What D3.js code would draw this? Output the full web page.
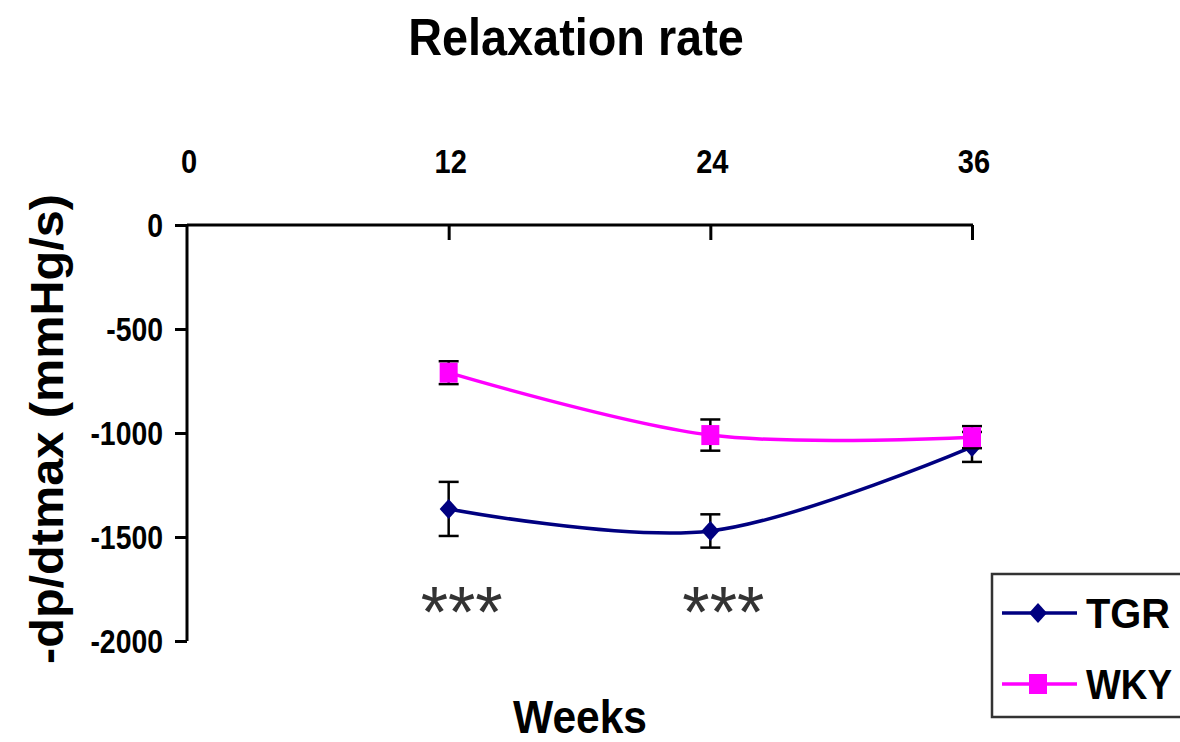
<!DOCTYPE html>
<html><head><meta charset="utf-8">
<script src="https://cdn.jsdelivr.net/npm/d3@7"></script>
<style>body{margin:0;background:#fff}svg{display:block}text{font-family:"Liberation Sans",Arial,sans-serif}</style>
</head><body>
<script>
const weeks = [12, 24, 36];
const tgr = [-1365, -1471, -1067];
const tgrErr = [130, 80, 72];
const wky = [-710, -1010, -1020];
const wkyErr = [55, 75, 53];
const xTicks = [0, 12, 24, 36];
const yTicks = [0, -500, -1000, -1500, -2000];
const signif = [{week: 12, label: "***"}, {week: 24, label: "***"}];

const W = 1180, H = 742;
const svg = d3.select("body").append("svg").attr("width", W).attr("height", H);
const x = d3.scaleLinear().domain([0, 36]).range([187, 972]);
const y = d3.scaleLinear().domain([0, -2000]).range([225, 641]);

function squeeze(sel, f) {
  sel.each(function () {
    const n = this.getComputedTextLength();
    d3.select(this).attr("textLength", n * f).attr("lengthAdjust", "spacingAndGlyphs");
  });
  return sel;
}

svg.append("text").attr("x", 576).attr("y", 55).attr("text-anchor", "middle").attr("font-weight", "bold")
  .attr("font-size", 52).text("Relaxation rate").call(squeeze, 0.9);

// top x axis
const xa = svg.append("g").attr("transform", `translate(0,${y(0)})`)
  .call(d3.axisBottom(x).tickValues(xTicks).tickSize(15).tickFormat(""));
xa.select(".domain").remove();
xa.selectAll(".tick line").filter(d => d === 0).remove();
xa.selectAll("line").attr("stroke", "#000").attr("stroke-width", 3);
svg.append("line").attr("x1", x(0)).attr("x2", x(36) + 1).attr("y1", y(0)).attr("y2", y(0))
  .attr("stroke", "#000").attr("stroke-width", 3);
svg.selectAll(".xlab").data(xTicks).enter().append("text")
  .attr("x", d => x(d) + 2).attr("y", 173).attr("text-anchor", "middle").attr("font-weight", "bold")
  .attr("font-size", 33).text(d => d).call(squeeze, 0.88);

// y axis
const ya = svg.append("g").attr("transform", `translate(${x(0)},0)`)
  .call(d3.axisLeft(y).tickValues(yTicks).tickSize(12).tickPadding(12).tickFormat(d => String(d)));
ya.select(".domain").attr("stroke", "#000").attr("stroke-width", 3).attr("d", `M0,${y(0)}V${y(-2000)}`);
ya.selectAll(".tick line").attr("stroke", "#000").attr("stroke-width", 3);
ya.selectAll(".tick text").attr("font-size", 33).attr("font-family", '"Liberation Sans",Arial,sans-serif')
  .attr("font-weight", "bold").attr("fill", "#000").attr("dy", "0.36em").call(squeeze, 0.86);

svg.append("text").attr("transform", "translate(63,429) rotate(-90)").attr("text-anchor", "middle")
  .attr("font-size", 47).attr("font-weight", "bold").attr("textLength", 470).attr("lengthAdjust", "spacingAndGlyphs")
  .text("-dp/dtmax (mmHg/s)");
svg.append("text").attr("x", 580).attr("y", 733).attr("text-anchor", "middle").attr("font-weight", "bold")
  .attr("font-size", 46).attr("textLength", 134).attr("lengthAdjust", "spacingAndGlyphs").text("Weeks");

const line = d3.line().x((d, i) => x(weeks[i])).y(d => y(d)).curve(d3.curveCatmullRom.alpha(0));

function series(vals, errs, color, shape) {
  svg.append("path").datum(vals).attr("d", line).attr("fill", "none").attr("stroke", color).attr("stroke-width", 3.5);
  const g = svg.append("g");
  vals.forEach((v, i) => {
    const cx = x(weeks[i]);
    g.append("line").attr("x1", cx).attr("x2", cx).attr("y1", y(v + errs[i])).attr("y2", y(v - errs[i])).attr("stroke", "#000").attr("stroke-width", 2.5);
    [v + errs[i], v - errs[i]].forEach(e => g.append("line").attr("x1", cx - 10).attr("x2", cx + 10).attr("y1", y(e)).attr("y2", y(e)).attr("stroke", "#000").attr("stroke-width", 2.5));
  });
  vals.forEach((v, i) => {
    const cx = x(weeks[i]), cy = y(v);
    if (shape === "diamond") g.append("path").attr("d", `M${cx},${cy - 10}L${cx + 9},${cy}L${cx},${cy + 10}L${cx - 9},${cy}Z`).attr("fill", color);
    else g.append("rect").attr("x", cx - 9).attr("y", cy - 10).attr("width", 18).attr("height", 20).attr("fill", color);
  });
}
series(tgr, tgrErr, "#000080", "diamond");
series(wky, wkyErr, "#ff00ff", "square");

svg.selectAll(".sig").data(signif).enter().append("text")
  .attr("x", d => x(d.week) + 13).attr("y", 637).attr("text-anchor", "middle")
  .attr("font-size", 72).attr("font-weight", "normal").attr("fill", "#333").text(d => d.label)
  .attr("textLength", 82).attr("lengthAdjust", "spacingAndGlyphs");

// legend
const lg = svg.append("g");
lg.append("rect").attr("x", 992).attr("y", 574).attr("width", 200).attr("height", 143).attr("fill", "#fff").attr("stroke", "#333").attr("stroke-width", 2.5);
const legItems = [{name: "TGR", color: "#000080", shape: "diamond", yy: 613, w: 84}, {name: "WKY", color: "#ff00ff", shape: "square", yy: 684, w: 86}];
legItems.forEach(it => {
  lg.append("line").attr("x1", 1002).attr("x2", 1077).attr("y1", it.yy).attr("y2", it.yy).attr("stroke", it.color).attr("stroke-width", 3.5);
  if (it.shape === "diamond") lg.append("path").attr("d", `M1038,${it.yy - 10}L1047,${it.yy}L1038,${it.yy + 10}L1029,${it.yy}Z`).attr("fill", it.color);
  else lg.append("rect").attr("x", 1029).attr("y", it.yy - 10).attr("width", 18).attr("height", 20).attr("fill", it.color);
  lg.append("text").attr("x", 1086).attr("y", it.yy + 15).attr("font-size", 42).attr("font-weight", "bold")
    .attr("textLength", it.w).attr("lengthAdjust", "spacingAndGlyphs").text(it.name);
});
</script>
</body></html>
